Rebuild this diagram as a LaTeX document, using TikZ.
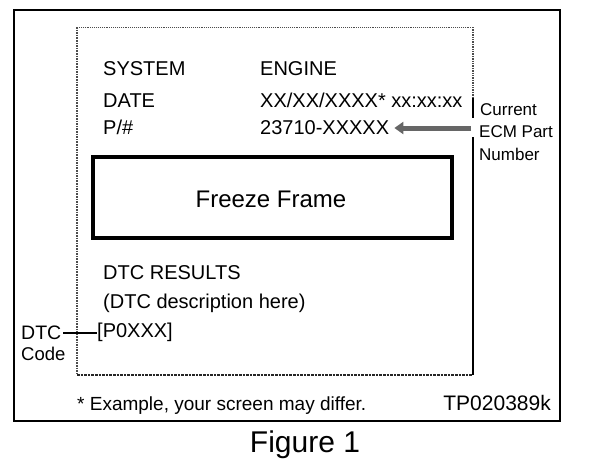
\documentclass[tikz,border=0pt]{standalone}
\usepackage{fontspec}
\setmainfont{Liberation Sans}
\usetikzlibrary{arrows.meta}
\tikzset{
  txt/.style={anchor=base west, inner sep=0pt, font=\fontsize{20}{23}\selectfont},
  side/.style={anchor=base west, inner sep=0pt, font=\fontsize{17}{20}\selectfont},
  dotline/.style={black!70, densely dotted},
  solidline/.style={black, line width=2.5pt},
}
\begin{document}
\begin{tikzpicture}[x=1pt,y=-1pt]
\useasboundingbox (0,0) rectangle (608,472);
% outer frame
\draw[line width=2.5pt] (14,10) rectangle (560,421);
% inner screen box
\draw[dotline, line width=0.9pt] (77,27) -- (473,27);
\draw[dotline, line width=1.6pt] (77,27) -- (77,375);
\draw[dotline, line width=2.6pt, black!85] (77,375) -- (473,375);
\draw[dotline, line width=1.4pt] (473,27) -- (473,98);
\draw[solidline] (473,98) -- (473,118);
\draw[solidline] (473,137) -- (473,375);
% freeze frame box
\draw[line width=4pt] (93,157) rectangle (452,238);
\node[anchor=base, inner sep=0pt, font=\fontsize{24}{28}\selectfont] (ff) at (271,207) {Freeze Frame};
% rows
\node[txt] (sys) at (103,75) {SYSTEM};
\node[txt] (eng) at (260,75) {ENGINE};
\node[txt] (date) at (103,107) {DATE};
\node[txt] (dval) at (260,107) {XX/XX/XXXX* xx:xx:xx};
\node[txt] (pn) at (103,134) {P/\#};
\node[txt] (pval) at (260,134) {23710-XXXXX};
\node[txt] (res) at (103,279) {DTC RESULTS};
\node[txt] (desc) at (103,308) {(DTC description here)};
\node[txt] (code) at (97,337) {[P0XXX]};
% side labels
\node[side] (cur) at (480,115) {Current};
\node[side] (ecm) at (479,137) {ECM Part};
\node[side] (num) at (479,160) {Number};
\coordinate (arrstart) at (471,128);
\coordinate (arrtip) at ([xshift=5pt]pval.east |- arrstart);
\draw[line width=5pt, black!60, -{Triangle[length=9pt,width=12pt]}] (arrstart) -- (arrtip);
% DTC code label
\node[anchor=base west, inner sep=0pt, font=\fontsize{19.5}{22}\selectfont] (dtc) at (21,339) {DTC};
\node[anchor=base west, inner sep=0pt, font=\fontsize{18.5}{21}\selectfont] (cd) at (21,360) {Code};
\draw[line width=1.5pt] ([xshift=2pt]dtc.east |- 0,333) -- (code.west |- 0,333);
% footnote
\node[anchor=base west, inner sep=0pt, font=\fontsize{19}{22}\selectfont] (ex) at (77,410) {* Example, your screen may differ.};
\node[anchor=base east, inner sep=0pt, font=\fontsize{21}{24}\selectfont] (tp) at (551,410) {TP020389k};
\node[anchor=base, inner sep=0pt, font=\fontsize{30}{34}\selectfont] (fig) at (305,452) {Figure 1};
\end{tikzpicture}
\end{document}
